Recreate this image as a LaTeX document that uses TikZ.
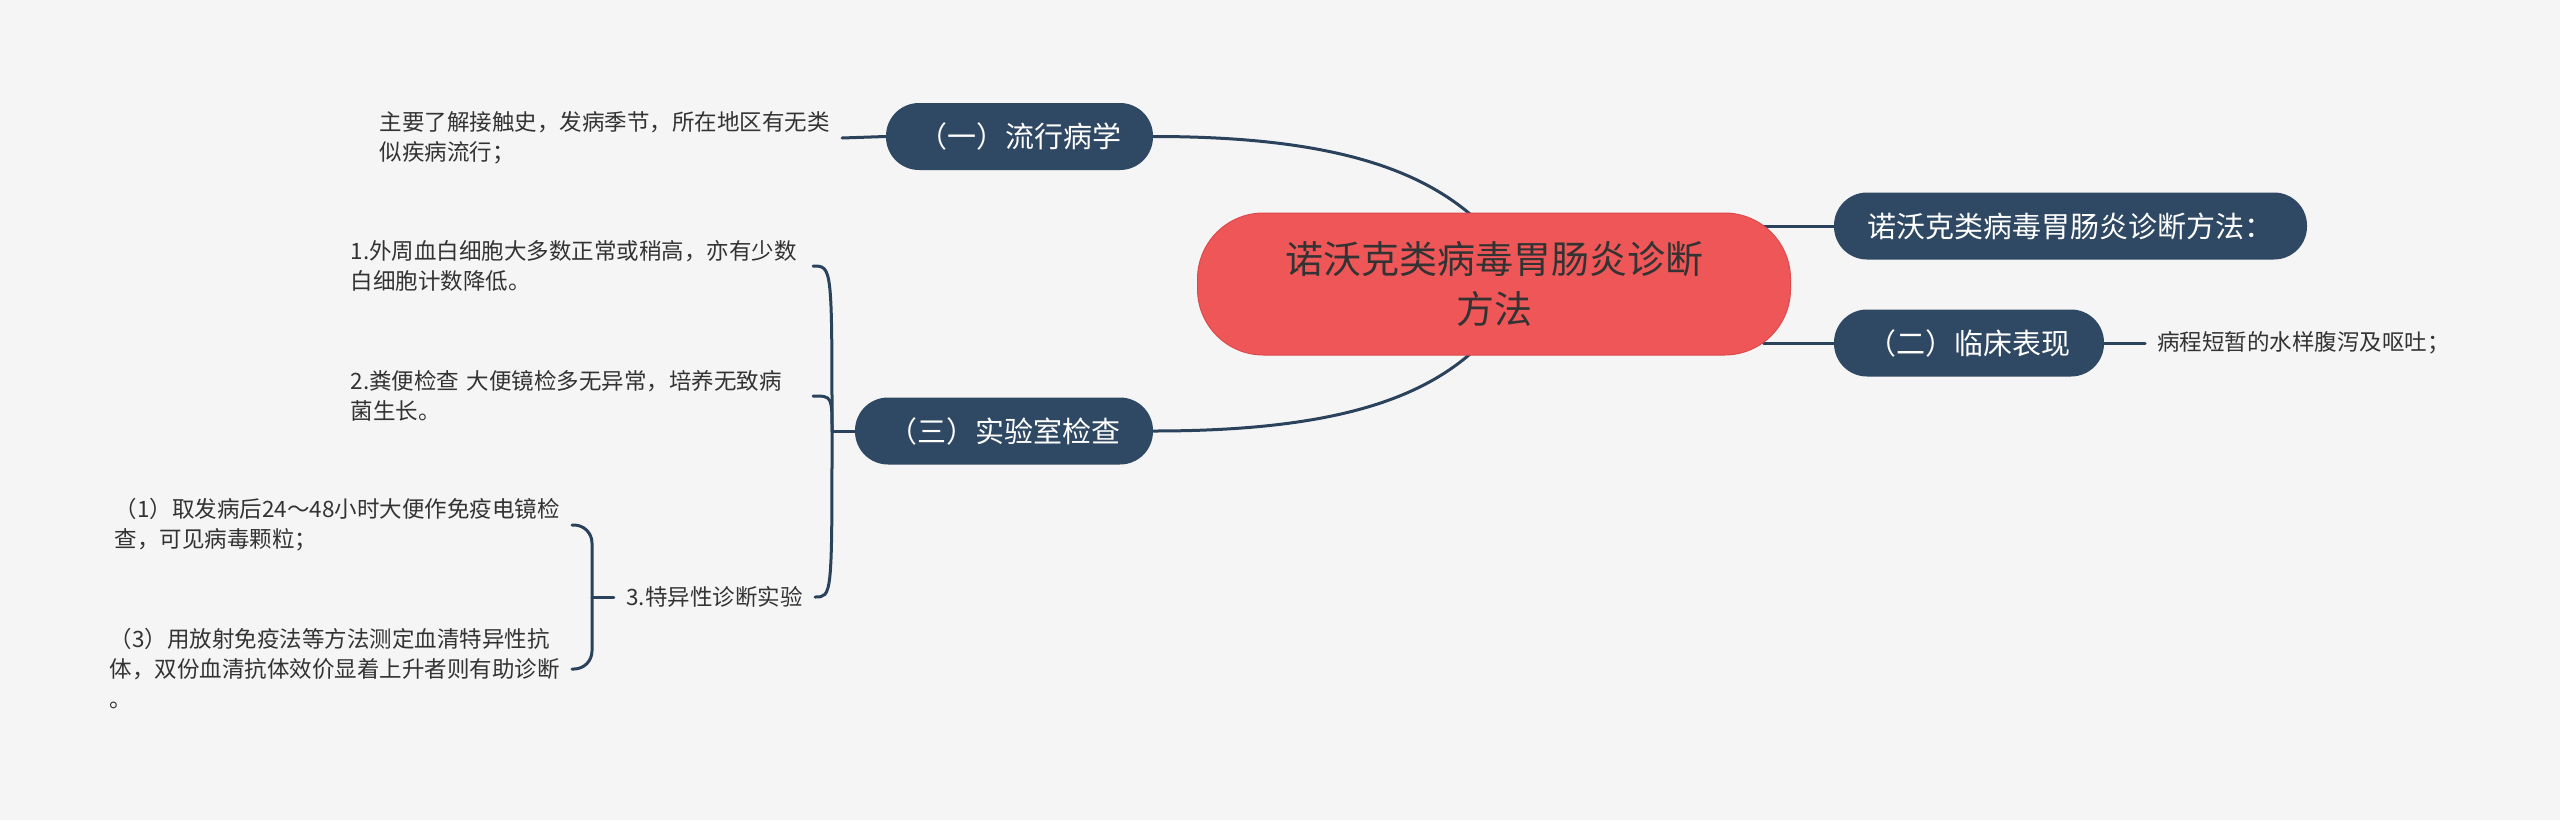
\documentclass[tikz,border=0pt]{standalone}
\usepackage{fontspec}
\setmainfont{Noto Sans CJK SC}
\usetikzlibrary{calc,backgrounds}
\definecolor{bgc}{HTML}{F5F5F5}
\definecolor{navy}{HTML}{2F4863}
\definecolor{linec}{HTML}{2A425C}
\definecolor{redf}{HTML}{EF5658}
\definecolor{redd}{HTML}{DB4A4D}
\definecolor{txt}{HTML}{333333}
\begin{document}
\begin{tikzpicture}[x=0.5pt,y=-0.5pt,
  central/.style={fill=redf,draw=redd,line width=0.5pt,rounded corners=33pt,minimum width=296.5pt,minimum height=71pt,align=center,text=txt,font=\fontsize{19}{25}\selectfont,inner sep=0pt},
  branch/.style={fill=navy,rounded corners=16.5pt,minimum height=33.5pt,text=white,font=\fontsize{14.5}{18}\selectfont,inner sep=0pt},
  leaf/.style={text=txt,font=\fontsize{11.25}{15}\selectfont,align=left,inner xsep=6pt,inner ysep=0pt},
  conn/.style={draw=linec,line width=1.5pt,line cap=round},
]
\useasboundingbox (0,0) rectangle (2560,820);
\node[central] (ctr) at (1494,284) {诺沃克类病毒胃肠炎诊断\\方法};
\node[branch,minimum width=133.5pt] (b1) at (1019.5,136.5) {（一）流行病学};
\node[branch,minimum width=149pt] (b3) at (1004,431) {（三）实验室检查};
\node[branch,minimum width=236.5pt] (r1) at (2070.5,226) {诺沃克类病毒胃肠炎诊断方法：};
\node[branch,minimum width=135pt] (r2) at (1969,343) {（二）临床表现};
\node[leaf,anchor=east] (L1) at (842,138) {主要了解接触史，发病季节，所在地区有无类\\似疾病流行；};
\node[leaf,anchor=east,text width=225pt] (L3a) at (813,266) {1.外周血白细胞大多数正常或稍高，亦有少数\\白细胞计数降低。};
\node[leaf,anchor=east,text width=225pt] (L3b) at (813,396) {2.粪便检查 大便镜检多无异常，培养无致病\\菌生长。};
\node[leaf,anchor=east] (L3c) at (815,597) {3.特异性诊断实验};
\node[leaf,anchor=east] (L3c1) at (572,525) {（1）取发病后24～48小时大便作免疫电镜检\\查，可见病毒颗粒；};
\node[leaf,anchor=east] (L3c2) at (572,669) {（3）用放射免疫法等方法测定血清特异性抗\\体，双份血清抗体效价显着上升者则有助诊断\\。};
\node[leaf,anchor=west] (L2) at (2145,343) {病程短暂的水样腹泻及呕吐；};
\coordinate (J3) at (832,431);
\coordinate (K) at (592,597);
\begin{pgfonlayer}{background}
\fill[bgc] (0,0) rectangle (2560,820);
\draw[conn] (b1.east) .. controls (1320,136.5) and (1415,165) .. ($(ctr.north)+(-20,5)$);
\draw[conn] (b3.east) .. controls (1320,431) and (1415,404) .. ($(ctr.south)+(-20,-5)$);
\draw[conn] (r1.west) -- ($(r1.west)+(-70,0)$);
\draw[conn] (r2.west) -- ($(r2.west)+(-70,0)$);
\draw[conn] (b1.west) -- (L1.east);
\draw[conn] (r2.east) -- (L2.west);
\draw[conn] (b3.west) -- (J3);
\draw[conn] (J3) .. controls (832,266) .. (L3a.east);
\draw[conn] (J3) .. controls (832,396) .. (L3b.east);
\draw[conn] (J3) .. controls (832,597) .. (L3c.east);
\draw[conn,rounded corners=9pt] (L3c1.east) -| (K) |- (L3c2.east);
\draw[conn] (K) -- (L3c.west);
\end{pgfonlayer}
\end{tikzpicture}
\end{document}
